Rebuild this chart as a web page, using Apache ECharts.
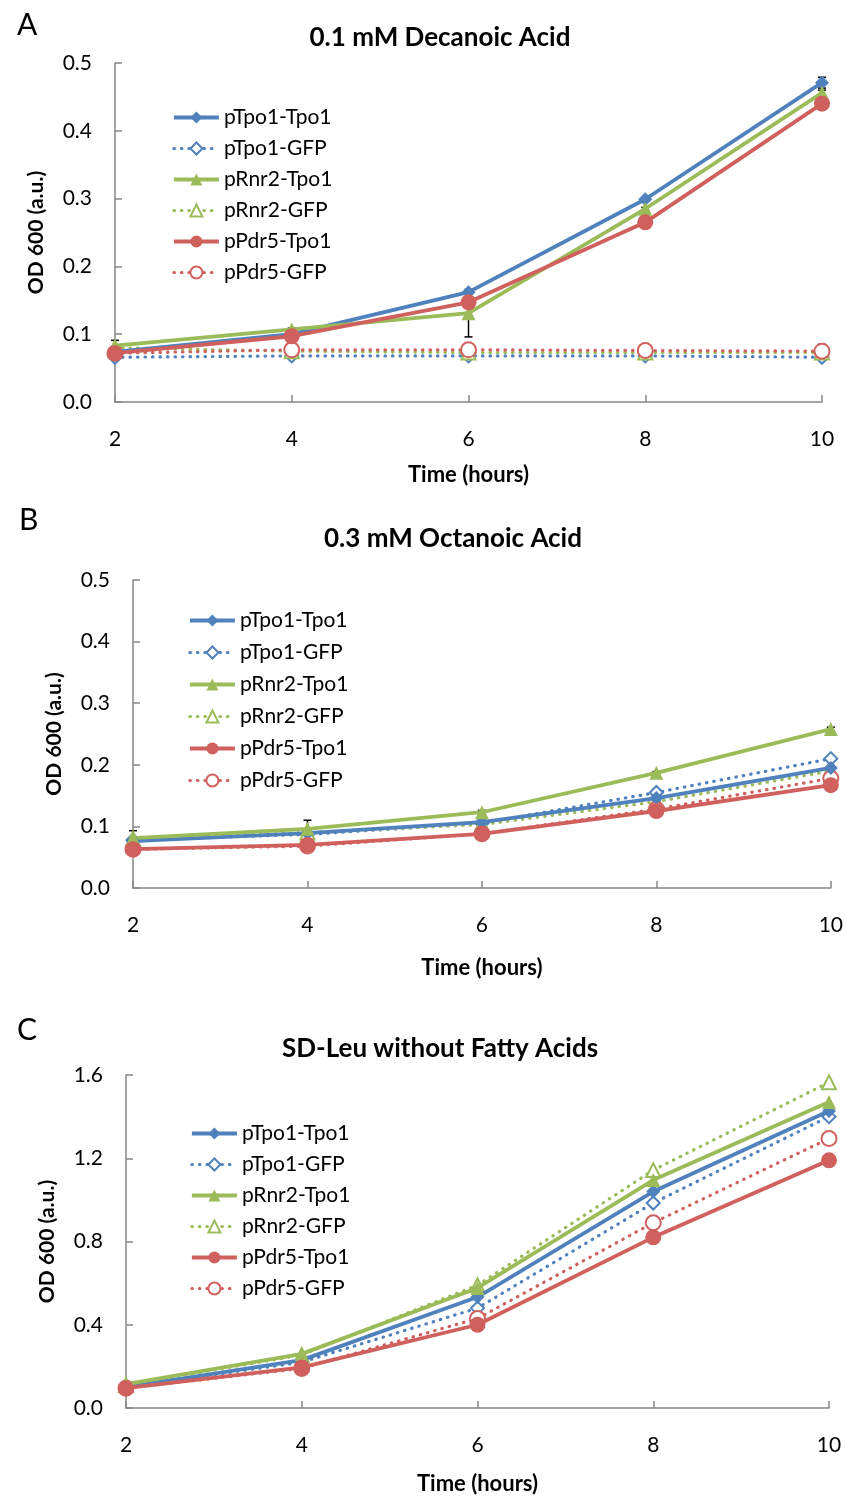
<!DOCTYPE html>
<html><head><meta charset="utf-8">
<script src="https://cdn.jsdelivr.net/npm/echarts@6/dist/echarts.min.js"></script>
<style>html,body{margin:0;padding:0;background:#fff}#c{width:846px;height:1499px}</style>
</head><body><div id="c"></div>
<script>
var hours = [2, 4, 6, 8, 10];
var seriesNames = ['pTpo1-Tpo1', 'pTpo1-GFP', 'pRnr2-Tpo1', 'pRnr2-GFP', 'pPdr5-Tpo1', 'pPdr5-GFP'];
var panelTitles = ['0.1 mM Decanoic Acid', '0.3 mM Octanoic Acid', 'SD-Leu without Fatty Acids'];
var panelLetters = ['A', 'B', 'C'];
var yTicksAB = [0, 0.1, 0.2, 0.3, 0.4, 0.5];
var yTicksC = [0, 0.4, 0.8, 1.2, 1.6];

// Panel A: 0.1 mM Decanoic Acid
var A_pTpo1_Tpo1 = [0.074, 0.100, 0.162, 0.299, 0.471];
var A_pTpo1_GFP  = [0.066, 0.068, 0.068, 0.068, 0.066];
var A_pRnr2_Tpo1 = [0.083, 0.107, 0.131, 0.285, 0.456];
var A_pRnr2_GFP  = [0.080, 0.075, 0.073, 0.073, 0.073];
var A_pPdr5_Tpo1 = [0.072, 0.097, 0.147, 0.265, 0.440];
var A_pPdr5_GFP  = [0.072, 0.077, 0.077, 0.076, 0.075];
var A_err = [[0.002, 0.002, 0.002, 0.002, 0.008], [0.002, 0.002, 0.003, 0.003, 0.003], [0.008, 0.002, 0.035, 0.002, 0.004], [0.002, 0.002, 0.004, 0.004, 0.004], [0.002, 0.002, 0.002, 0.002, 0.002], [0.002, 0.002, 0.008, 0.006, 0.010]];

// Panel B: 0.3 mM Octanoic Acid
var B_pTpo1_Tpo1 = [0.076, 0.089, 0.107, 0.146, 0.195];
var B_pTpo1_GFP  = [0.078, 0.087, 0.105, 0.155, 0.210];
var B_pRnr2_Tpo1 = [0.081, 0.096, 0.123, 0.187, 0.258];
var B_pRnr2_GFP  = [0.080, 0.090, 0.103, 0.140, 0.190];
var B_pPdr5_Tpo1 = [0.063, 0.070, 0.088, 0.125, 0.167];
var B_pPdr5_GFP  = [0.063, 0.068, 0.088, 0.128, 0.178];
var B_err = [[0.002, 0.002, 0.002, 0.002, 0.004], [0.002, 0.002, 0.002, 0.004, 0.003], [0.012, 0.014, 0.003, 0.002, 0.003], [0.002, 0.002, 0.002, 0.002, 0.003], [0.002, 0.002, 0.002, 0.002, 0.010], [0.002, 0.002, 0.002, 0.002, 0.003]];

// Panel C: SD-Leu without Fatty Acids
var C_pTpo1_Tpo1 = [0.100, 0.230, 0.533, 1.040, 1.427];
var C_pTpo1_GFP  = [0.100, 0.220, 0.480, 0.985, 1.400];
var C_pRnr2_Tpo1 = [0.115, 0.260, 0.577, 1.095, 1.470];
var C_pRnr2_GFP  = [0.110, 0.255, 0.590, 1.143, 1.565];
var C_pPdr5_Tpo1 = [0.095, 0.195, 0.400, 0.820, 1.190];
var C_pPdr5_GFP  = [0.095, 0.190, 0.430, 0.890, 1.295];

var colors = ['#4F81BD', '#4F81BD', '#9BBB59', '#9BBB59', '#D0605D', '#D0605D'];
var symbols = ['diamond', 'emptyDiamond', 'triangle', 'emptyTriangle', 'circle', 'emptyCircle'];
var symSizes = [14, 13, 14, 14, 16, 15];

var panelData = [
  [A_pTpo1_Tpo1, A_pTpo1_GFP, A_pRnr2_Tpo1, A_pRnr2_GFP, A_pPdr5_Tpo1, A_pPdr5_GFP],
  [B_pTpo1_Tpo1, B_pTpo1_GFP, B_pRnr2_Tpo1, B_pRnr2_GFP, B_pPdr5_Tpo1, B_pPdr5_GFP],
  [C_pTpo1_Tpo1, C_pTpo1_GFP, C_pRnr2_Tpo1, C_pRnr2_GFP, C_pPdr5_Tpo1, C_pPdr5_GFP]
];
var panelErr = [A_err, B_err, null];

var FONT = 'Lato';
var grids = [
  {left: 115, top: 63, width: 707, height: 339},
  {left: 133, top: 580, width: 700, height: 308},
  {left: 126, top: 1075, width: 703, height: 333}
];
var titlePos = [{x: 440, y: 25}, {x: 453, y: 526}, {x: 440, y: 1036}];
var letterPos = [{x: 12, y: 5}, {x: 14, y: 500}, {x: 12, y: 1010}];
var legendPos = [{x: 172, y: 107}, {x: 188, y: 610}, {x: 190, y: 1123}];
var legendGaps = [10, 11, 10];
var xNameGaps = [62, 69, 65];
var yMax = [0.5, 0.5, 1.6];
var yInt = [0.1, 0.1, 0.4];

var axisLineStyle = {color: '#868686', width: 1.5};
var titles = [], xAxes = [], yAxes = [], legends = [], series = [];
for (var p = 0; p < 3; p++) {
  titles.push({text: panelTitles[p], left: titlePos[p].x, top: titlePos[p].y, textAlign: 'center', padding: 0,
    textStyle: {fontFamily: FONT, fontWeight: 'bold', fontSize: 26, color: '#000'}});
  titles.push({text: panelLetters[p], left: letterPos[p].x, top: letterPos[p].y,
    textStyle: {fontFamily: FONT, fontWeight: 'normal', fontSize: 30, color: '#000'}});
  xAxes.push({type: 'value', gridIndex: p, min: 2, max: 10, interval: 2,
    name: 'Time (hours)', nameLocation: 'middle', nameGap: xNameGaps[p],
    nameTextStyle: {fontFamily: FONT, fontWeight: 'bold', fontSize: 22, color: '#000'},
    axisLine: {lineStyle: axisLineStyle}, axisTick: {inside: true, length: 7, lineStyle: axisLineStyle},
    axisLabel: {margin: 27, fontFamily: FONT, fontSize: 21, color: '#000'},
    splitLine: {show: false}});
  yAxes.push({type: 'value', gridIndex: p, min: 0, max: yMax[p], interval: yInt[p],
    name: 'OD 600 (a.u.)', nameLocation: 'middle', nameGap: 68, nameRotate: 90,
    nameTextStyle: {fontFamily: FONT, fontWeight: 'bold', fontSize: 21, color: '#000'},
    axisLine: {show: true, lineStyle: axisLineStyle}, axisTick: {show: true, inside: true, length: 7, lineStyle: axisLineStyle},
    axisLabel: {margin: 23, fontFamily: FONT, fontSize: 21, color: '#000', formatter: function (v) { return v.toFixed(1); }},
    splitLine: {show: false}});
  legends.push({orient: 'vertical', left: legendPos[p].x, top: legendPos[p].y, itemWidth: 45, itemHeight: 15,
    itemGap: legendGaps[p], data: seriesNames, selectedMode: false, padding: 0,
    lineStyle: {width: 'inherit', type: 'inherit'},
    textStyle: {fontFamily: FONT, fontSize: 21, color: '#000'}});
  for (var s = 0; s < 6; s++) {
    var dotted = s % 2 === 1;
    var d = panelData[p][s].map(function (v, i) { return [hours[i], v]; });
    series.push({type: 'line', name: seriesNames[s], xAxisIndex: p, yAxisIndex: p, data: d,
      symbol: symbols[s], symbolSize: symSizes[s], showSymbol: true,
      itemStyle: {color: colors[s], borderColor: colors[s], borderWidth: dotted ? 1.8 : 0},
      lineStyle: dotted ? {color: colors[s], width: 3.2, type: [0.5, 7], cap: 'round'} : {color: colors[s], width: 3.8},
      z: dotted ? 3 : 4, animation: false});
    if (panelErr[p]) {
      var ed = panelData[p][s].map(function (v, i) { return [hours[i], v, panelErr[p][s][i]]; });
      series.push({type: 'custom', xAxisIndex: p, yAxisIndex: p, data: ed, z: 2, silent: true, animation: false,
        renderItem: function (params, api) {
          var x = api.value(0), y = api.value(1), e = api.value(2);
          var top = api.coord([x, y + e]), bot = api.coord([x, y - e]);
          var st = {stroke: '#000', lineWidth: 1.5};
          return {type: 'group', children: [
            {type: 'line', shape: {x1: top[0], y1: top[1], x2: bot[0], y2: bot[1]}, style: st},
            {type: 'line', shape: {x1: top[0] - 4, y1: top[1], x2: top[0] + 4, y2: top[1]}, style: st},
            {type: 'line', shape: {x1: bot[0] - 4, y1: bot[1], x2: bot[0] + 4, y2: bot[1]}, style: st}
          ]};
        }});
    }
  }
}

var chart = echarts.init(document.getElementById('c'), null, {renderer: 'canvas'});
chart.setOption({
  backgroundColor: '#fff',
  animation: false,
  title: titles,
  grid: grids,
  xAxis: xAxes,
  yAxis: yAxes,
  legend: legends,
  series: series
});
</script></body></html>
